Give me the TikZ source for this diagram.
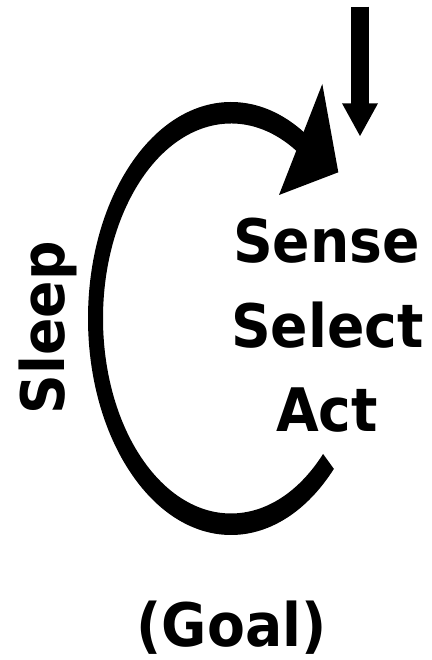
\documentclass[tikz,border=0pt]{standalone}
\usepackage{fontspec}
\newfontfamily\labelfont{DejaVu Sans}[FakeStretch=0.92]
\usetikzlibrary{arrows.meta,calc}

\begin{document}
\begin{tikzpicture}[x=1pt, y=1pt, line join=miter,
    word/.style={inner sep=0pt, anchor=base, font=\labelfont\bfseries\fontsize{60}{72}\selectfont}]
  \useasboundingbox (0,0) rectangle (431,660);

  \coordinate (c) at (231,341.5);                          % loop centre
  \fill ($(c)+(-44:143 and 216.5)$)                        % loop band
    arc[start angle=-44, end angle=-310, x radius=143, y radius=216.5]
    -- ($(c)+(50:128 and 195)$)
    arc[start angle=-310, end angle=-44, x radius=128, y radius=195] -- cycle;
  \fill (322.3,576) -- (338.3,487.7) -- (279,465) -- cycle; % loop head

  \coordinate (in) at (360,653.3);
  \coordinate (intip) at (360,523.3);
  \draw[line width=18pt, -{Triangle[length=33.4pt, width=33.4pt]}] (in) -- (intip);

  \node[word] (sense)  at (326.5,397) {Sense};
  \node[word] (select) at (327.5,312) {Select};
  \node[word] (act)    at (327,228)   {Act};
  \node[word, rotate=90] (sleep) at (64,332) {Sleep};
  \node[word] (goal)   at (231.5,13)  {(Goal)};
\end{tikzpicture}
\end{document}
